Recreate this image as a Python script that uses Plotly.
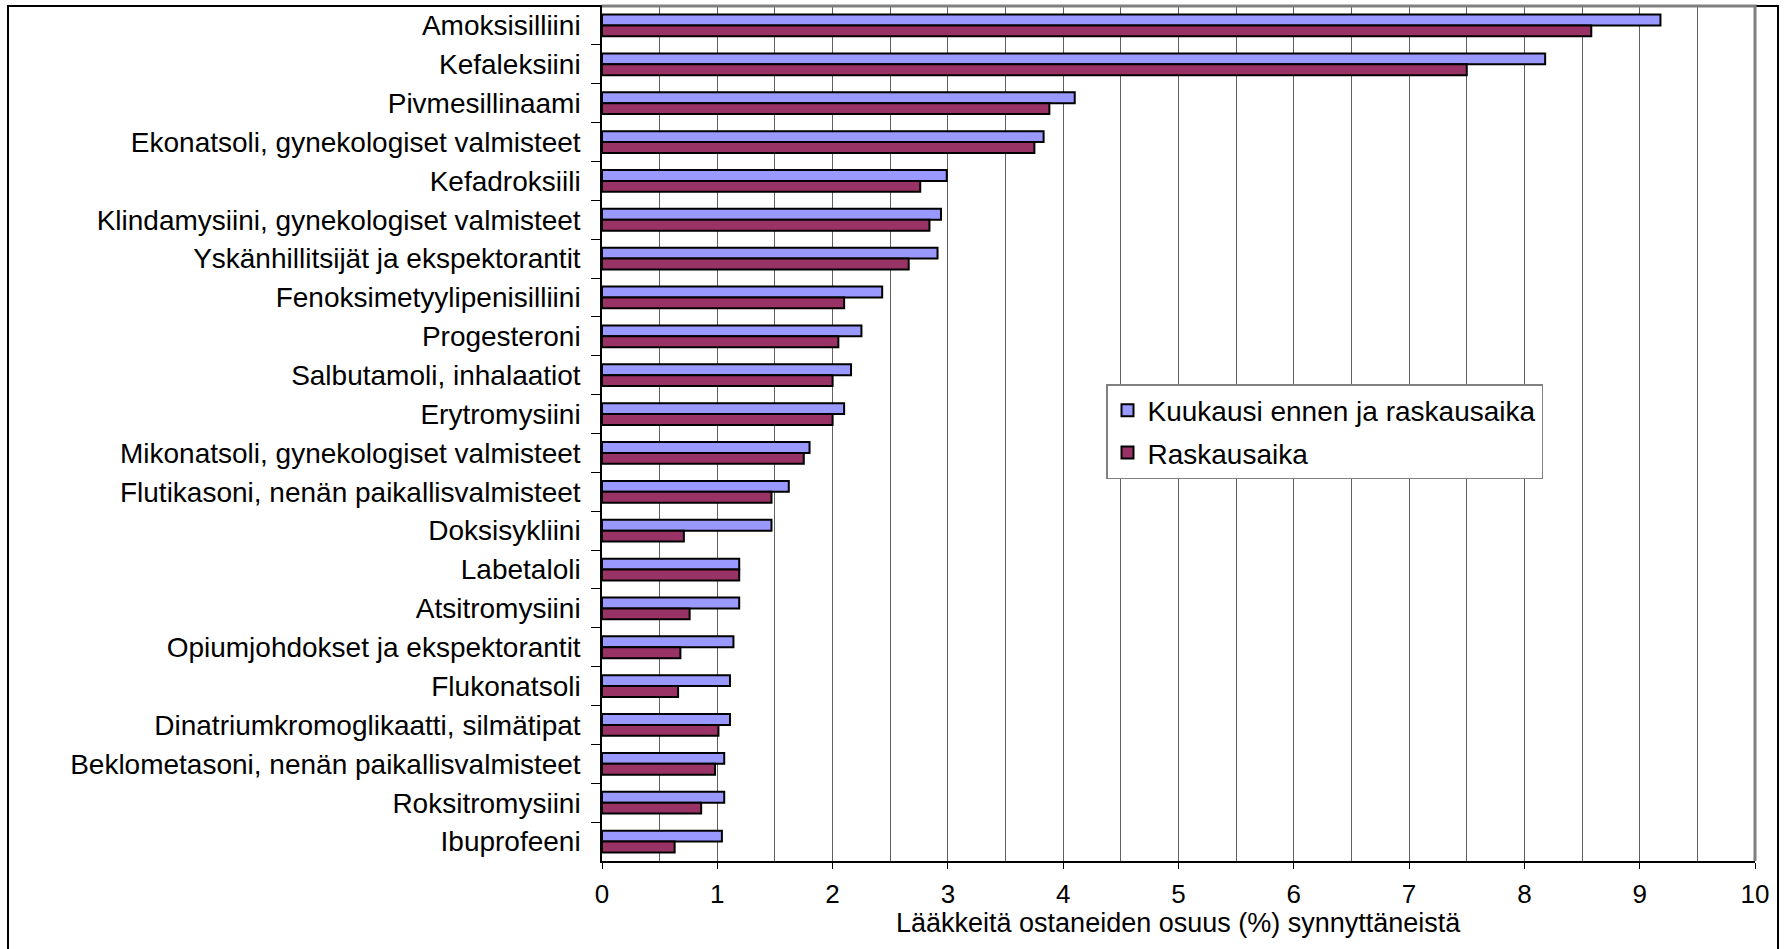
import plotly.graph_objects as go

W, H = 1787, 949
PLOT_L, PLOT_R, PLOT_T, PLOT_B = 602, 1755, 6, 861

laakkeet = [
    "Amoksisilliini",
    "Kefaleksiini",
    "Pivmesillinaami",
    "Ekonatsoli, gynekologiset valmisteet",
    "Kefadroksiili",
    "Klindamysiini, gynekologiset valmisteet",
    "Yskänhillitsijät ja ekspektorantit",
    "Fenoksimetyylipenisilliini",
    "Progesteroni",
    "Salbutamoli, inhalaatiot",
    "Erytromysiini",
    "Mikonatsoli, gynekologiset valmisteet",
    "Flutikasoni, nenän paikallisvalmisteet",
    "Doksisykliini",
    "Labetaloli",
    "Atsitromysiini",
    "Opiumjohdokset ja ekspektorantit",
    "Flukonatsoli",
    "Dinatriumkromoglikaatti, silmätipat",
    "Beklometasoni, nenän paikallisvalmisteet",
    "Roksitromysiini",
    "Ibuprofeeni",
]
kuukausi_ennen = [9.18, 8.18, 4.10, 3.83, 2.99, 2.94, 2.91, 2.43, 2.25, 2.16, 2.10,
                  1.80, 1.62, 1.47, 1.19, 1.19, 1.14, 1.11, 1.11, 1.06, 1.06, 1.04]
raskausaika = [8.58, 7.50, 3.88, 3.75, 2.76, 2.84, 2.66, 2.10, 2.05, 2.00, 2.00,
               1.75, 1.47, 0.71, 1.19, 0.76, 0.68, 0.66, 1.01, 0.98, 0.86, 0.63]
akseli_otsikko = "Lääkkeitä ostaneiden osuus (%) synnyttäneistä"

FONT = "Arial, Liberation Sans, sans-serif"


def px_x(x):
    return (x - PLOT_L) / (PLOT_R - PLOT_L)


def px_y(y):
    return (PLOT_B - y) / (PLOT_B - PLOT_T)


fig = go.Figure()
fig.add_trace(go.Bar(
    y=laakkeet, x=kuukausi_ennen, orientation="h",
    name="Kuukausi ennen ja raskausaika", legendgroup="a",
    marker=dict(color="#9999FF", line=dict(color="black", width=2)),
))
fig.add_trace(go.Bar(
    y=laakkeet, x=raskausaika, orientation="h",
    name="Raskausaika", legendgroup="b",
    marker=dict(color="#993366", line=dict(color="black", width=2)),
))

# chart frame (black) and plot-area border top/right (gray)
fig.add_shape(type="rect", xref="paper", yref="paper",
              x0=px_x(8), x1=px_x(1778), y0=px_y(960), y1=px_y(6),
              line=dict(color="black", width=2), fillcolor="rgba(0,0,0,0)")
fig.add_shape(type="path", xref="paper", yref="paper",
              path="M 0 1 L 1 1 L 1 0",
              line=dict(color="#808080", width=3))

fig.add_annotation(text=akseli_otsikko, xref="paper", yref="paper",
                   x=0.5, y=px_y(923), xanchor="center", yanchor="middle",
                   showarrow=False, font=dict(size=27))

fig.update_layout(
    width=W, height=H,
    margin=dict(l=PLOT_L, r=W - PLOT_R, t=PLOT_T, b=H - PLOT_B, autoexpand=False),
    paper_bgcolor="white", plot_bgcolor="white",
    font=dict(family=FONT, size=28, color="black"),
    barmode="group", bargap=0.44, bargroupgap=0,
    showlegend=True,
    legend=dict(
        x=px_x(1106), y=px_y(384), xanchor="left", yanchor="top",
        bgcolor="white", bordercolor="#808080", borderwidth=1.5,
        traceorder="grouped", tracegroupgap=3, font=dict(size=28),
        itemwidth=30,
    ),
)
fig.update_xaxes(
    range=[0, 10], dtick=1, ticks="outside", ticklen=6, tickcolor="black",
    showline=True, linecolor="black", linewidth=1.5,
    showgrid=True, gridcolor="#606060", gridwidth=1,
    minor=dict(dtick=0.5, showgrid=True, gridcolor="#606060", gridwidth=1),
    tickfont=dict(size=26), ticklabelstandoff=3,
    zeroline=False, automargin=False,
)
fig.update_yaxes(
    autorange="reversed", tickson="boundaries", ticks="outside", ticklen=9,
    tickcolor="black", showline=True, linecolor="black", linewidth=1.5,
    showgrid=False, ticklabelstandoff=14, automargin=False,
)

fig.write_html("out.html", config={"displayModeBar": False},
               post_script="document.body.style.margin='0';")
